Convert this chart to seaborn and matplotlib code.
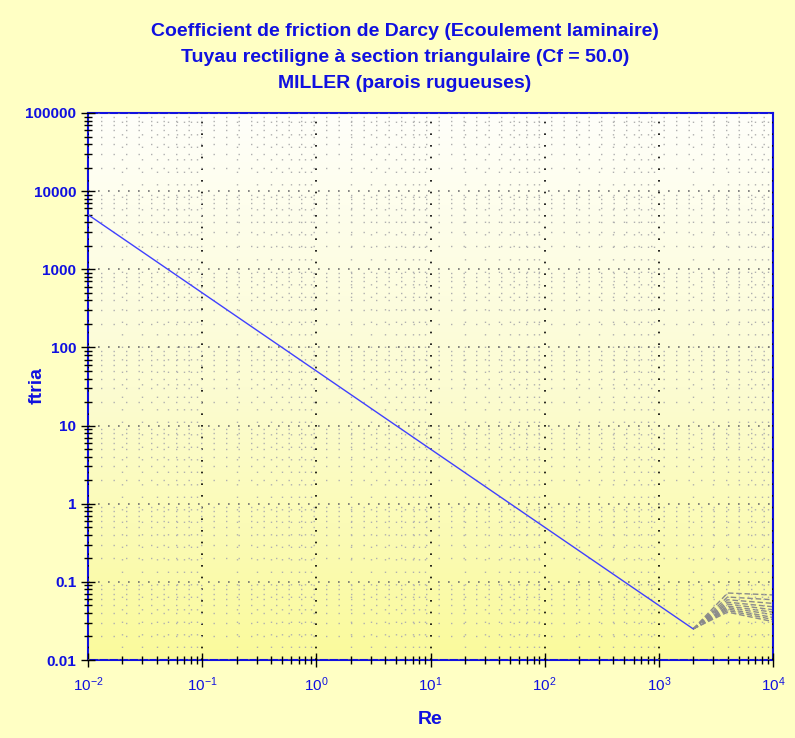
import numpy as np
import pandas as pd
import seaborn as sns
import matplotlib
matplotlib.use("Agg")
from matplotlib import pyplot as plt
from matplotlib.ticker import LogLocator, FuncFormatter

# laminar branch (straight in log-log)
re_lam = [0.01, 2000]
f_lam = [5000.0, 0.025]

# Miller rough-wall curves
re_turb = [2000, 4000, 10000]
f_turb = [
    [0.025, 0.072, 0.068],
    [0.025, 0.064, 0.059],
    [0.025, 0.059, 0.053],
    [0.025, 0.055, 0.048],
    [0.025, 0.052, 0.044],
    [0.025, 0.049, 0.041],
    [0.025, 0.047, 0.038],
    [0.025, 0.045, 0.035],
    [0.025, 0.043, 0.033],
    [0.025, 0.041, 0.031],
]

BLUE = "#1010e0"
sns.set_style("white")
plt.rcParams["font.family"] = ["Liberation Sans", "DejaVu Sans"]
plt.rcParams["axes.unicode_minus"] = False
plt.rcParams["xtick.bottom"] = True
plt.rcParams["ytick.left"] = True

fig = plt.figure(figsize=(7.95, 7.38), dpi=100, facecolor="#ffffc4")
ax = fig.add_axes([88/795, 1-660/738, (773-88)/795, (660-113)/738])

# background gradient white -> yellow
grad = np.linspace(0, 1, 256).reshape(-1, 1)
cmap = matplotlib.colors.LinearSegmentedColormap.from_list("bg", ["#fffffa", "#fcfcd2", "#fafa9c"])
ax.imshow(grad, aspect="auto", cmap=cmap, extent=[0, 1, 0, 1], transform=ax.transAxes, zorder=0)

df_lam = pd.DataFrame({"Re": re_lam, "f": f_lam})
sns.lineplot(data=df_lam, x="Re", y="f", color="#4040ff", lw=1.0, ax=ax, zorder=3)

rows = []
for k, vals in enumerate(f_turb):
    for r, v in zip(re_turb, vals):
        rows.append({"Re": r, "f": v, "curve": k})
df_turb = pd.DataFrame(rows)
sns.lineplot(data=df_turb, x="Re", y="f", units="curve", estimator=None,
             color="#8a8a8a", lw=1.0, ls=(0, (4, 2)), ax=ax, zorder=2)

ax.set_xscale("log")
ax.set_yscale("log")
ax.set_xlim(1e-2, 1e4)
ax.set_ylim(1e-2, 1e5)
ax.set_aspect("auto")

ax.xaxis.set_major_locator(LogLocator(base=10, numticks=20))
ax.yaxis.set_major_locator(LogLocator(base=10, numticks=20))
ax.xaxis.set_minor_locator(LogLocator(base=10, subs=np.arange(2, 10), numticks=20))
ax.yaxis.set_minor_locator(LogLocator(base=10, subs=np.arange(2, 10), numticks=20))
ax.yaxis.set_major_formatter(FuncFormatter(lambda v, p: "%g" % v))

ax.grid(which="major", axis="x", color="black", ls=(0, (1, 6)), lw=1.2, zorder=1)
ax.grid(which="major", axis="y", color="#707070", ls=(0, (1, 5)), lw=1.2, zorder=1)
ax.grid(which="minor", color="#b0b0b0", ls=(0, (1, 8)), lw=1.0, zorder=1)
ax.set_axisbelow(False)

ax.tick_params(which="major", direction="inout", length=10, width=1, color="black",
               labelcolor=BLUE, labelsize=11)
ax.tick_params(which="minor", direction="inout", length=6, width=1, color="black")
ax.tick_params(axis="x", pad=6)
for lab in ax.get_yticklabels():
    lab.set_fontweight("bold")
for s in ax.spines.values():
    s.set_color(BLUE)
    s.set_linewidth(1.5)

ax.set_xlabel("Re", color=BLUE, fontsize=14, fontweight="bold", labelpad=12)
ax.set_ylabel("")
fig.text(37/795, 1 - 386/738, "ftria", rotation=90, ha="center", va="center",
         color=BLUE, fontsize=14, fontweight="bold")

titles = ["Coefficient de friction de Darcy (Ecoulement laminaire)",
          "Tuyau rectiligne à section triangulaire (Cf = 50.0)",
          "MILLER (parois rugueuses)"]
for i, t in enumerate(titles):
    fig.text(405/795, 1 - (32 + 25.5*i)/738, t, ha="center", va="center",
             color=BLUE, fontsize=14, fontweight="bold")

plt.savefig("out.png", dpi=100, facecolor=fig.get_facecolor())
plt.close()
